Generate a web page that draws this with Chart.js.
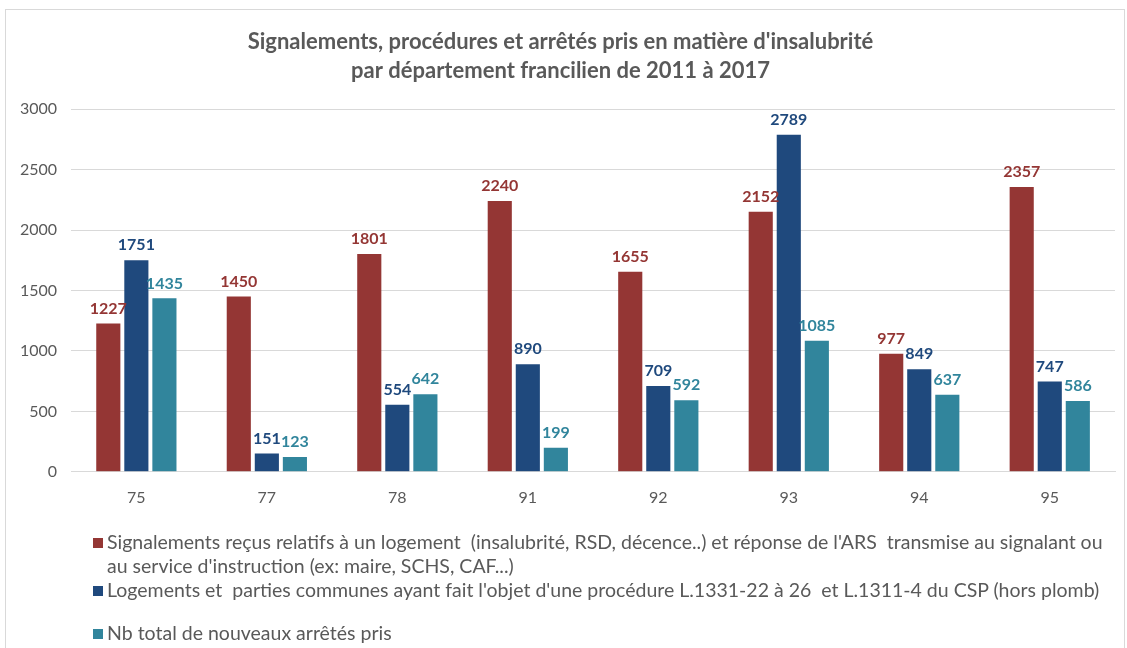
<!DOCTYPE html>
<html><head><meta charset="utf-8">
<script src="https://cdn.jsdelivr.net/npm/chart.js@4/dist/chart.umd.min.js"></script>
<style>
html,body{margin:0;padding:0;background:#fff;}
#wrap{position:relative;width:1127px;height:648px;overflow:hidden;}
#frame{position:absolute;left:5px;top:9px;width:1120px;height:660px;border:1px solid #d9d9d9;box-sizing:border-box;}
canvas{position:absolute;left:0;top:0;}
#legend{position:absolute;left:93px;top:530px;font-family:Lato,"Open Sans",sans-serif;font-size:19.5px;line-height:23px;color:#595959;}
.li{position:absolute;left:0;white-space:nowrap;}
.sq{display:inline-block;width:10px;height:10px;margin-right:4px;vertical-align:1px;}
</style></head><body>
<div id="wrap"><div id="frame"></div><canvas id="c" width="1127" height="648"></canvas>
<div id="legend"></div></div>
<script>
const categories = ["75","77","78","91","92","93","94","95"];
const signalements = [1227,1450,1801,2240,1655,2152,977,2357];
const procedures = [1751,151,554,890,709,2789,849,747];
const arretes = [1435,123,642,199,592,1085,637,586];
const yTicks = [0,500,1000,1500,2000,2500,3000];
const seriesNames = [
 "Signalements reçus relatifs à un logement  (insalubrité, RSD, décence..) et réponse de l'ARS  transmise au signalant ou au service d'instruction (ex: maire, SCHS, CAF...)",
 "Logements et  parties communes ayant fait l'objet d'une procédure L.1331-22 à 26  et L.1311-4 du CSP (hors plomb)",
 "Nb total de nouveaux arrêtés pris"
];
const colors = ["#943634","#1F497D","#31859C"];
const FONT = 'Lato, "Open Sans", sans-serif';

const labelPlugin = {
  id:'vlabels',
  afterDatasetsDraw(chart){
    const ctx = chart.ctx;
    ctx.save();
    ctx.font = 'bold 16px ' + FONT;
    ctx.textAlign = 'center';
    ctx.textBaseline = 'bottom';
    chart.data.datasets.forEach((ds,i)=>{
      const meta = chart.getDatasetMeta(i);
      ctx.fillStyle = colors[i];
      meta.data.forEach((bar,j)=>{
        ctx.fillText(String(ds.data[j]), bar.x, bar.y - 7);
      });
    });
    ctx.restore();
  }
};

new Chart(document.getElementById('c'), {
  type:'bar',
  data:{
    labels:categories,
    datasets:[
      {label:seriesNames[0], data:signalements, backgroundColor:colors[0]},
      {label:seriesNames[1], data:procedures, backgroundColor:colors[1]},
      {label:seriesNames[2], data:arretes, backgroundColor:colors[2]}
    ]
  },
  options:{
    responsive:false, animation:false,
    categoryPercentage:0.645, barPercentage:0.86,
    layout:{padding:{left:6,right:12,top:0,bottom:133}},
    plugins:{
      legend:{display:false},
      tooltip:{enabled:false},
      title:{display:true, text:["Signalements, procédures et arrêtés pris en matière d'insalubrité","par département francilien de 2011 à 2017"],
        color:'#595959', font:{family:FONT, size:22, weight:'bold', lineHeight:1.3}, padding:{top:28,bottom:24}}
    },
    scales:{
      x:{grid:{display:false}, border:{color:'#d9d9d9'},
        ticks:{color:'#595959', font:{family:FONT, size:16}, padding:8}},
      y:{min:0,max:3000, afterBuildTicks(axis){axis.ticks = yTicks.map(v=>({value:v}));},
        grid:{color:'#d9d9d9', drawTicks:false}, border:{display:false},
        ticks:{color:'#595959', font:{family:FONT, size:16}, padding:14, callback:(v)=>String(v)}}
    }
  },
  plugins:[labelPlugin]
});

const lg = document.getElementById('legend');
const tops = [0, 48, 91];
const lines = [
  ["Signalements reçus relatifs à un logement  (insalubrité, RSD, décence..) et réponse de l'ARS  transmise au signalant ou", "au service d'instruction (ex: maire, SCHS, CAF...)"],
  [seriesNames[1]],
  [seriesNames[2]]
];
let html='';
lines.forEach((l,i)=>{
  html += `<div class="li" style="top:${tops[i]}px;"><span class="sq" style="background:${colors[i]}"></span>${l[0].replace(/  /g,'&nbsp; ')}</div>`;
  if(l[1]) html += `<div class="li" style="top:${tops[i]+24}px;left:14px;">${l[1]}</div>`;
});
lg.innerHTML = html;
</script>
</body></html>
